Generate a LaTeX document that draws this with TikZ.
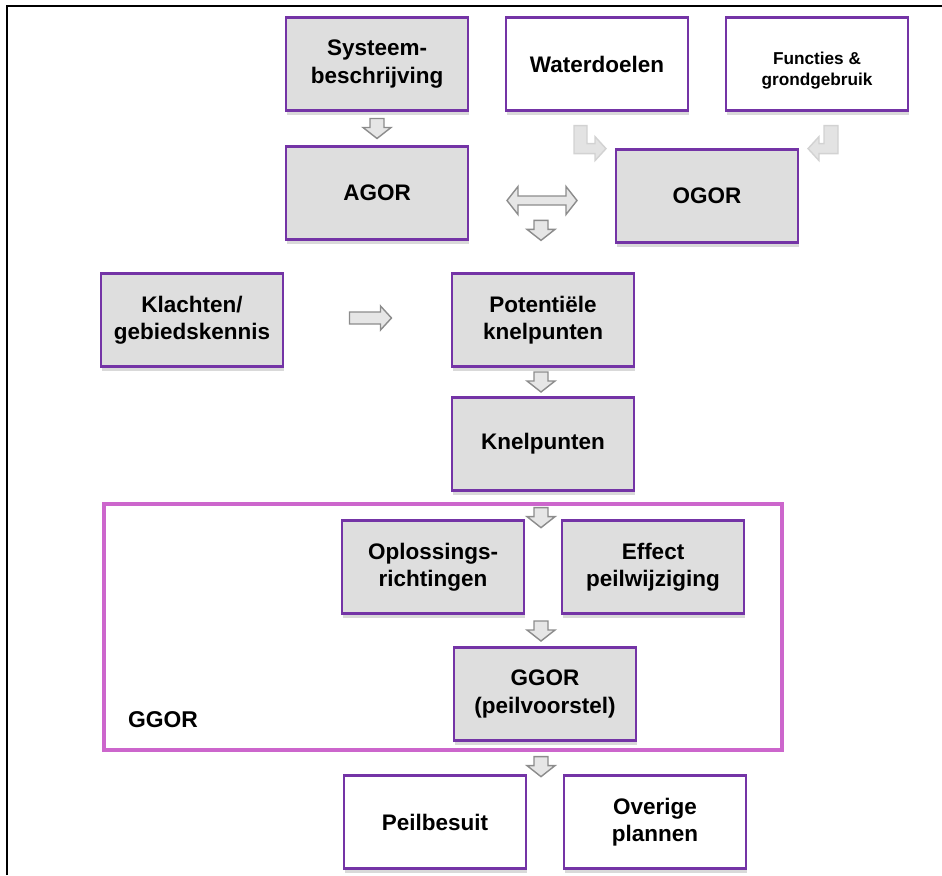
\documentclass[tikz,border=0pt]{standalone}
\usepackage{fontspec}
\setmainfont{Liberation Sans}
\usepackage{xcolor}
\usepackage{tikz}
\usetikzlibrary{calc,shadows}

\definecolor{boxgray}{HTML}{DEDEDE}
\definecolor{boxline}{HTML}{7434A6}
\definecolor{ggorpink}{HTML}{CC66CC}
\definecolor{arrowline}{HTML}{8C8C8C}
\definecolor{arrowfill}{HTML}{E6E6E6}

\begin{document}
\begin{tikzpicture}[x=0.02cm,y=-0.02cm,
  box/.style={draw=boxline, line width=1.3pt, fill=boxgray,
    minimum width=3.64cm, minimum height=1.86cm, align=center,
    font=\fontsize{12.8}{15.5}\selectfont\bfseries,
    drop shadow={shadow xshift=0.8pt, shadow yshift=-2.5pt, opacity=0.3}},
  whitebox/.style={box, fill=white},
  blockarrow/.style={draw=arrowline, fill=arrowfill, line width=0.8pt, line join=miter},
  faintarrow/.style={draw=gray!35, fill=gray!22, line width=0.8pt}]
  \useasboundingbox (0,0) rectangle (942,875);
  \draw[line width=1.7pt] (7,875) -- (7,6) -- (942,6);

  % top row
  \node[box] (sys) at (377,64) {Systeem-\\beschrijving};
  \node[whitebox] (water) at (597,64) {Waterdoelen};
  \node[whitebox, font=\fontsize{9.8}{12}\selectfont\bfseries, text height=0.95cm] (func) at (817,64) {Functies \&\\grondgebruik};

  \node[box] (agor) at (377,193) {AGOR};
  \node[box] (ogor) at (707,196) {OGOR};

  \node[box] (klacht) at (192,320) {Klachten/\\gebiedskennis};
  \node[box] (pot) at (543,320) {Potentiële\\knelpunten};
  \node[box] (knel) at (543,444) {Knelpunten};

  % GGOR frame
  \draw[ggorpink, line width=2.3pt] (104,504) rectangle (782,750);
  \node[font=\fontsize{13}{15}\selectfont\bfseries] (ggorlabel) at (163,720) {GGOR};
  \node[box] (opl) at (433,567) {Oplossings-\\richtingen};
  \node[box] (eff) at (653,567) {Effect\\peilwijziging};
  \node[box] (ggor) at (545,694) {GGOR\\(peilvoorstel)};

  \node[whitebox] (peil) at (435,822) {Peilbesuit};
  \node[whitebox] (over) at (655,822) {Overige\\plannen};

  % down arrows
  \coordinate (d1) at ($(sys.south)!0.5!(agor.north)$);
  \coordinate (d2) at ($(pot.north)+(-2,-42)$);
  \coordinate (d3) at ($(pot.south)!0.5!(knel.north)+(-2,0)$);
  \coordinate (d4) at ($(knel.south)+(-2,26)$);
  \coordinate (d5) at ($(opl.east)!0.5!(eff.west)+(-2,64)$);
  \coordinate (d6) at ($(ggor.south)+(-4,25)$);
  \foreach \c in {d1,d2,d3,d4,d5,d6} {
    \draw[blockarrow] (\c) ++(-7,-10) -- ++(14,0) -- ++(0,9) -- ++(7,0)
      -- ++(-14,11) -- ++(-14,-11) -- ++(7,0) -- cycle;
  }

  % AGOR <-> OGOR
  \coordinate (h1) at ($(agor.east)!0.5!(ogor.west)+(0,6)$);
  \draw[blockarrow] (h1) ++(-35,0) -- ++(11,-14) -- ++(0,9.5) -- ++(48,0)
    -- ++(0,-9.5) -- ++(11,14) -- ++(-11,14) -- ++(0,-9.5) -- ++(-48,0)
    -- ++(0,9.5) -- cycle;

  % Klachten -> Potentiele knelpunten
  \coordinate (r1) at ($(klacht.east)!0.5!(pot.west)+(3,-2)$);
  \draw[blockarrow] (r1) ++(-21,-6) -- ++(31,0) -- ++(0,-6) -- ++(11,12)
    -- ++(-11,12) -- ++(0,-6) -- ++(-31,0) -- cycle;

  % bent arrows into OGOR
  \coordinate (l1) at ($(water.south)+(-23,14)$);
  \draw[faintarrow] (l1) -- ++(13,0) -- ++(0,18) -- ++(8,0) -- ++(0,-7)
    -- ++(11,12) -- ++(-11,12) -- ++(0,-7) -- ++(-21,0) -- cycle;
  \coordinate (l2) at ($(func.south)+(21,14)$);
  \draw[faintarrow] (l2) -- ++(-14,0) -- ++(0,18) -- ++(-5,0) -- ++(0,-7)
    -- ++(-11,12) -- ++(11,12) -- ++(0,-7) -- ++(19,0) -- cycle;
\end{tikzpicture}
\end{document}
